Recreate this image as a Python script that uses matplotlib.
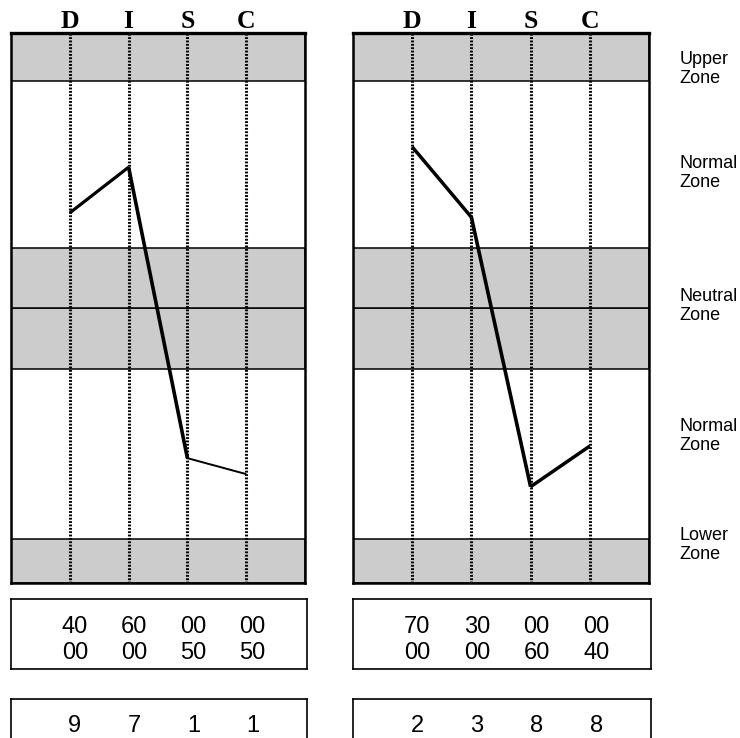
"""
DISC profile chart - two graphs side by side with zone bands
and the score boxes underneath
"""
import matplotlib
matplotlib.use("Agg")
import matplotlib.pyplot as plt

W, H = 740, 738  # figure size in pixels

# data
letters = ["D", "I", "S", "C"]
left_scores = [67.3, 75.6, 22.7, 19.8]   # graph position (0 bottom .. 100 top)
right_scores = [79.3, 66.5, 17.5, 24.9]
left_widths = [2.3, 2.6, 1.4]   # segment widths
right_widths = [2.5, 2.6, 2.5]

gray_zones = [(0, 8), (39, 50), (50, 61), (91.3, 100)]
zone_names = ["Upper\nZone", "Normal\nZone", "Neutral\nZone", "Normal\nZone", "Lower\nZone"]
zone_label_y = [93.5, 74.5, 50.3, 26.7, 6.9]

left_row1 = ["40", "60", "00", "00"]
left_row2 = ["00", "00", "50", "50"]
right_row1 = ["70", "30", "00", "00"]
right_row2 = ["00", "00", "60", "40"]
left_totals = [9, 7, 1, 1]
right_totals = [2, 3, 8, 8]

GRAY = "#cccccc"
NUM_FONT = ["Liberation Sans Narrow", "Liberation Sans", "DejaVu Sans"]


def px_axes(fig, x0, y0, x1, y1):
    """add an axes given pixel corners (top-left origin)"""
    return fig.add_axes([x0 / W, 1 - y1 / H, (x1 - x0) / W, (y1 - y0) / H])


def draw_panel(ax, scores, widths):
    ax.set_xlim(-1, 4)
    ax.set_ylim(0, 100)
    for lo, hi in gray_zones:
        ax.axhspan(lo, hi, facecolor=GRAY, edgecolor="black", lw=1.1, zorder=1)
    ax.vlines(range(len(letters)), 0, 100, colors="black", lw=2.2,
              linestyles=(0, (0.6, 0.5)), zorder=2, clip_on=False)
    for i in range(len(scores) - 1): # each segment drawn on its own for its width
        ax.plot([i, i + 1], [scores[i], scores[i + 1]], color="black",
                lw=widths[i], solid_capstyle="butt", zorder=3)
    ax.xaxis.tick_top()
    ax.set_xticks(range(len(letters)))
    ax.set_xticklabels(letters, fontfamily="Liberation Serif",
                       fontweight="bold", fontsize=18.5)
    ax.tick_params(axis="x", length=0, pad=0)
    ax.set_yticks([])
    for s in ax.spines.values():
        s.set_linewidth(1.8)
    ax.spines["top"].set_linewidth(2.4)


def draw_box(ax, rows, row_y):
    ax.set_xlim(-1, 4)
    ax.set_ylim(0, 1)
    ax.set_xticks([])
    ax.set_yticks([])
    for s in ax.spines.values():
        s.set_linewidth(1.2)
    for vals, y in zip(rows, row_y):
        for i, v in enumerate(vals):
            ax.text(i + 0.08, y, str(v), ha="center", va="center",
                    fontsize=17, family=NUM_FONT)


fig = plt.figure(figsize=(W / 100, H / 100), dpi=100)

ax1 = px_axes(fig, 11, 33, 305, 583)
ax2 = px_axes(fig, 353, 33, 649, 583)
draw_panel(ax1, left_scores, left_widths)
draw_panel(ax2, right_scores, right_widths)

for name, y in zip(zone_names, zone_label_y):
    ax2.text(4.52, y, name, ha="left", va="center", fontsize=13,
             family="Liberation Sans", linespacing=1.15, clip_on=False)

b1 = px_axes(fig, 11, 599, 307, 669)
b2 = px_axes(fig, 353, 599, 651, 669)
draw_box(b1, [left_row1, left_row2], [0.6, 0.23])
draw_box(b2, [right_row1, right_row2], [0.6, 0.23])

b3 = px_axes(fig, 11, 699, 307, 760)
b4 = px_axes(fig, 353, 699, 651, 760)
draw_box(b3, [left_totals], [0.56])
draw_box(b4, [right_totals], [0.56])

fig.savefig("out.png", dpi=100, facecolor="white")
